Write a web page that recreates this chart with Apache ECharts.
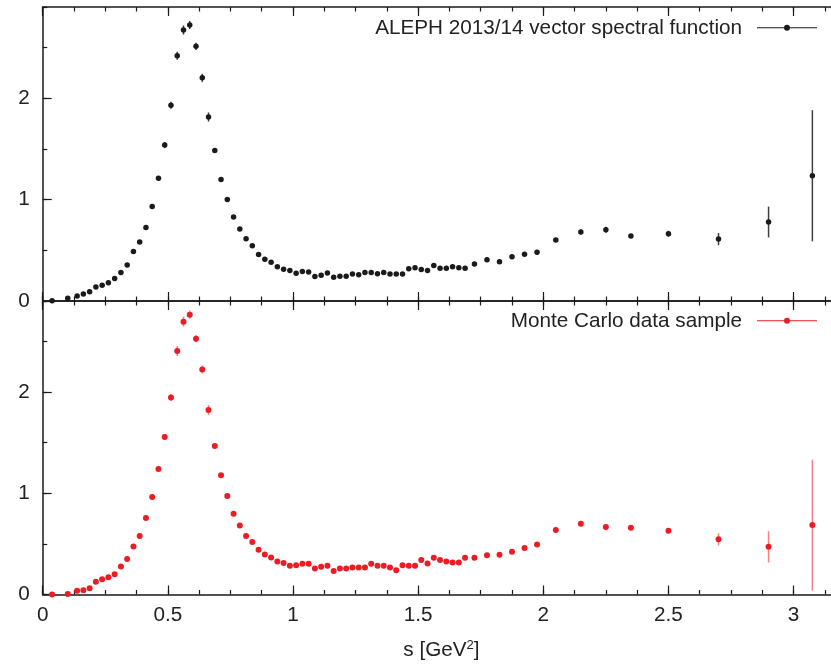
<!DOCTYPE html>
<html><head><meta charset="utf-8">
<script src="https://cdn.jsdelivr.net/npm/echarts@6/dist/echarts.min.js"></script>
<style>html,body{margin:0;padding:0;background:#fff}#c{width:831px;height:665px}</style>
</head><body><div id="c"></div>
<script>
// ---- data ----
const sValues = [0.0375, 0.1, 0.1375, 0.1625, 0.1875, 0.2125, 0.2375, 0.2625, 0.2875, 0.3125,
  0.3375, 0.3625, 0.3875, 0.4125, 0.4375, 0.4625, 0.4875, 0.5125, 0.5375, 0.5625,
  0.5875, 0.6125, 0.6375, 0.6625, 0.6875, 0.7125, 0.7375, 0.7625, 0.7875, 0.8125,
  0.8375, 0.8625, 0.8875, 0.9125, 0.9375, 0.9625, 0.9875, 1.0125, 1.0375, 1.0625,
  1.0875, 1.1125, 1.1375, 1.1625, 1.1875, 1.2125, 1.2375, 1.2625, 1.2875, 1.3125,
  1.3375, 1.3625, 1.3875, 1.4125, 1.4375, 1.4625, 1.4875, 1.5125, 1.5375, 1.5625,
  1.5875, 1.6125, 1.6375, 1.6625, 1.6875, 1.725, 1.775, 1.825, 1.875, 1.925,
  1.975, 2.05, 2.15, 2.25, 2.35, 2.5, 2.7, 2.9, 3.075];

const alephValues = [0.003, 0.027, 0.050, 0.069, 0.092, 0.139, 0.155, 0.181, 0.221, 0.280,
  0.356, 0.488, 0.581, 0.726, 0.931, 1.211, 1.538, 1.931, 2.419, 2.673,
  2.723, 2.512, 2.201, 1.815, 1.485, 1.198, 1.000, 0.828, 0.710, 0.614,
  0.545, 0.459, 0.413, 0.383, 0.337, 0.314, 0.300, 0.274, 0.290, 0.287,
  0.241, 0.254, 0.277, 0.235, 0.245, 0.245, 0.267, 0.260, 0.280, 0.280,
  0.270, 0.280, 0.267, 0.267, 0.267, 0.317, 0.327, 0.310, 0.300, 0.350,
  0.324, 0.324, 0.337, 0.327, 0.324, 0.366, 0.406, 0.386, 0.436, 0.462,
  0.482, 0.601, 0.680, 0.703, 0.641, 0.663, 0.611, 0.779, 1.235];

const alephErrors = [0.005, 0.005, 0.005, 0.005, 0.005, 0.005, 0.005, 0.005, 0.005, 0.006,
  0.008, 0.010, 0.010, 0.012, 0.015, 0.020, 0.030, 0.035, 0.040, 0.045,
  0.040, 0.035, 0.040, 0.045, 0.020, 0.015, 0.012, 0.010, 0.010, 0.010,
  0.010, 0.010, 0.010, 0.010, 0.010, 0.010, 0.010, 0.010, 0.010, 0.010,
  0.010, 0.010, 0.010, 0.010, 0.010, 0.010, 0.010, 0.010, 0.010, 0.010,
  0.010, 0.010, 0.010, 0.010, 0.010, 0.010, 0.010, 0.010, 0.010, 0.010,
  0.010, 0.010, 0.010, 0.010, 0.010, 0.012, 0.012, 0.012, 0.012, 0.012,
  0.012, 0.020, 0.025, 0.030, 0.020, 0.030, 0.060, 0.152, 0.647];

const mcValues = [0.000, 0.006, 0.036, 0.043, 0.062, 0.125, 0.151, 0.171, 0.201, 0.277,
  0.352, 0.475, 0.577, 0.755, 0.963, 1.241, 1.557, 1.947, 2.406, 2.696,
  2.765, 2.528, 2.224, 1.822, 1.468, 1.178, 0.973, 0.798, 0.683, 0.577,
  0.518, 0.442, 0.396, 0.366, 0.327, 0.312, 0.283, 0.290, 0.303, 0.303,
  0.257, 0.274, 0.283, 0.231, 0.257, 0.257, 0.267, 0.267, 0.267, 0.303,
  0.283, 0.283, 0.267, 0.240, 0.290, 0.283, 0.283, 0.340, 0.307, 0.362,
  0.340, 0.327, 0.317, 0.317, 0.362, 0.362, 0.389, 0.393, 0.422, 0.459,
  0.495, 0.637, 0.699, 0.666, 0.659, 0.630, 0.545, 0.471, 0.686];

const mcErrors = [0.005, 0.005, 0.005, 0.005, 0.005, 0.005, 0.005, 0.005, 0.005, 0.006,
  0.008, 0.010, 0.010, 0.012, 0.015, 0.020, 0.030, 0.035, 0.050, 0.050,
  0.040, 0.035, 0.040, 0.050, 0.020, 0.015, 0.012, 0.010, 0.010, 0.010,
  0.010, 0.010, 0.010, 0.010, 0.010, 0.010, 0.010, 0.010, 0.010, 0.010,
  0.010, 0.010, 0.010, 0.010, 0.010, 0.010, 0.010, 0.010, 0.010, 0.010,
  0.010, 0.010, 0.010, 0.010, 0.010, 0.010, 0.010, 0.010, 0.010, 0.010,
  0.010, 0.010, 0.010, 0.010, 0.010, 0.012, 0.012, 0.012, 0.012, 0.012,
  0.012, 0.020, 0.025, 0.030, 0.020, 0.025, 0.060, 0.155, 0.647];

const xTickLabels = ['0', '0.5', '1', '1.5', '2', '2.5', '3'];
const yTickLabels = ['0', '1', '2'];
const seriesNames = ['ALEPH 2013/14 vector spectral function', 'Monte Carlo data sample'];
const xAxisTitle = '{a|s [GeV}{b|2}{a|]}';

// ---- styling ----
const FONT = '"Liberation Sans", Arial, Helvetica, sans-serif';
const TXT = '#222';
const AX = '#1a1a1a';
const FS = 20.7;
const RED = '#ec1c24';
const BLK = '#1a1a1a';
const XMAX = 3.25;
const XUNIT = 250.3;

function xAxisOf(grid, pos, major, labels) {
  const ax = {
    type: 'value', gridIndex: grid, position: pos, min: 0, max: XMAX,
    interval: major ? 0.5 : 0.125,
    axisLine: { show: major, onZero: false, lineStyle: { color: AX, width: 1.5 } },
    axisTick: { show: true, inside: true, length: major ? 9 : 4.5, lineStyle: { color: AX, width: 1.2 } },
    axisLabel: {
      show: labels, margin: 10, showMaxLabel: false,
      fontFamily: FONT, fontSize: FS, color: TXT,
      formatter: function (v) {
        const i = Math.round(v / 0.5);
        return (Math.abs(v - i * 0.5) < 1e-9 && i < xTickLabels.length) ? xTickLabels[i] : '';
      }
    },
    splitLine: { show: false }
  };
  if (labels) {
    ax.name = xAxisTitle;
    ax.nameLocation = 'middle';
    ax.nameGap = 44;
    ax.nameTextStyle = {
      color: TXT, fontFamily: FONT, fontSize: FS, padding: [0, 16, 0, 0],
      rich: {
        a: { fontFamily: FONT, fontSize: FS, color: TXT, lineHeight: 24 },
        b: { fontFamily: FONT, fontSize: 13, color: TXT, verticalAlign: 'top', lineHeight: 13 }
      }
    };
  }
  return ax;
}

function yAxisOf(grid, major) {
  return {
    type: 'value', gridIndex: grid, position: 'left', min: 0, max: 2.9,
    interval: major ? 1 : 0.5,
    axisLine: { show: major, onZero: false, lineStyle: { color: AX, width: 1.5 } },
    axisTick: { show: true, inside: true, length: major ? 9 : 4.5, lineStyle: { color: AX, width: 1.2 } },
    axisLabel: {
      show: major, margin: 13, showMaxLabel: false,
      fontFamily: FONT, fontSize: FS, color: TXT,
      formatter: function (v) {
        const i = Math.round(v);
        return (Math.abs(v - i) < 1e-9 && i < yTickLabels.length) ? yTickLabels[i] : '';
      }
    },
    splitLine: { show: false }
  };
}

function points(vals) { return sValues.map((s, i) => [s, vals[i]]); }
function bars(vals, errs) { return sValues.map((s, i) => [s, vals[i] - errs[i], vals[i] + errs[i]]); }
function errRender(color) {
  return function (params, api) {
    const p1 = api.coord([api.value(0), api.value(1)]);
    const p2 = api.coord([api.value(0), api.value(2)]);
    return { type: 'line', shape: { x1: p1[0], y1: p1[1], x2: p2[0], y2: p2[1] },
             style: { stroke: color, lineWidth: 1.5 } };
  };
}

const legendIcon = 'path://M0,2.5L60,2.5L60,3.5L0,3.5Z M27,3A3,3,0,1,1,33,3A3,3,0,1,1,27,3Z';
function legendOf(name, top) {
  return {
    data: [{ name: name, icon: legendIcon }],
    right: 14, top: top, padding: 0, align: 'right', orient: 'vertical',
    itemWidth: 60, itemHeight: 6, selectedMode: false,
    textStyle: { fontFamily: FONT, fontSize: FS, color: TXT, padding: [0, 10, 0, 0] }
  };
}

const chart = echarts.init(document.getElementById('c'), null, { renderer: 'canvas' });
chart.setOption({
  animation: false,
  backgroundColor: '#fff',
  grid: [
    { left: 42.7, top: 7, width: XMAX * XUNIT, height: 294, containLabel: false, outerBoundsMode: 'none' },
    { left: 42.7, top: 301, width: XMAX * XUNIT, height: 293.5, containLabel: false, outerBoundsMode: 'none' }
  ],
  xAxis: [
    xAxisOf(0, 'bottom', true, false),
    xAxisOf(0, 'bottom', false, false),
    xAxisOf(0, 'top', true, false),
    xAxisOf(0, 'top', false, false),
    xAxisOf(1, 'bottom', true, true),
    xAxisOf(1, 'bottom', false, false),
    xAxisOf(1, 'top', true, false),
    xAxisOf(1, 'top', false, false)
  ],
  yAxis: [
    yAxisOf(0, true), yAxisOf(0, false),
    yAxisOf(1, true), yAxisOf(1, false)
  ],
  legend: [legendOf(seriesNames[0], 17.3), legendOf(seriesNames[1], 310.3)],
  series: [
    { type: 'custom', name: seriesNames[0] + ' err', xAxisIndex: 0, yAxisIndex: 0,
      renderItem: errRender('rgba(30,30,30,0.85)'), data: bars(alephValues, alephErrors),
      encode: { x: 0, y: [1, 2] }, z: 2, silent: true },
    { type: 'scatter', name: seriesNames[0], xAxisIndex: 0, yAxisIndex: 0,
      data: points(alephValues), symbol: 'circle', symbolSize: 5.5,
      itemStyle: { color: BLK, opacity: 1 }, z: 3 },
    { type: 'custom', name: seriesNames[1] + ' err', xAxisIndex: 4, yAxisIndex: 2,
      renderItem: errRender('rgba(236,28,36,0.55)'), data: bars(mcValues, mcErrors),
      encode: { x: 0, y: [1, 2] }, z: 2, silent: true },
    { type: 'scatter', name: seriesNames[1], xAxisIndex: 4, yAxisIndex: 2,
      data: points(mcValues), symbol: 'circle', symbolSize: 6,
      itemStyle: { color: RED, opacity: 1 }, z: 3 }
  ]
});
</script>
</body></html>
